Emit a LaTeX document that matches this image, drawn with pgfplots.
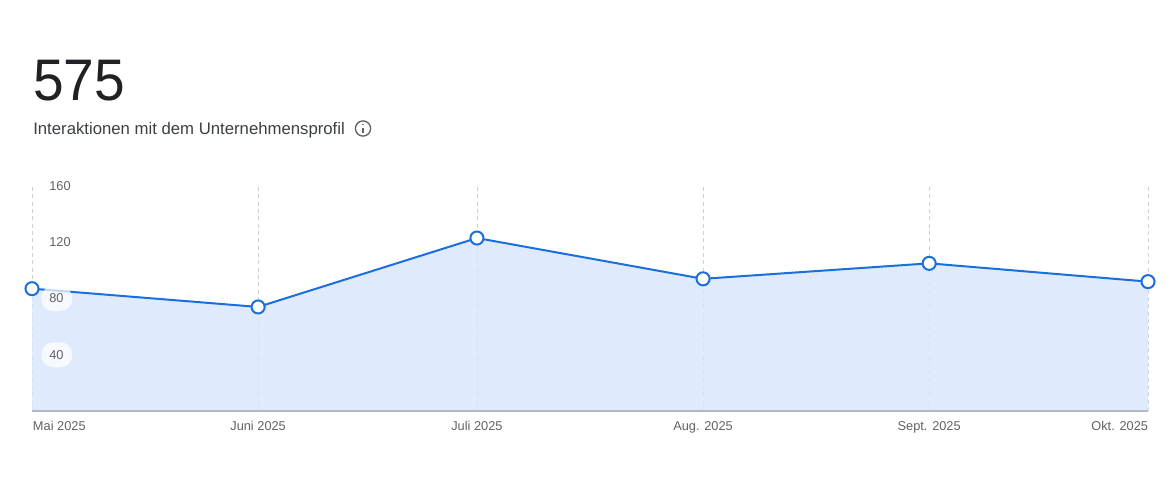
\documentclass[border=0pt]{standalone}
\usepackage{pgfplots}
\pgfplotsset{compat=1.18}
\usepackage{fontspec}
\setmainfont{Liberation Sans}
\newfontfamily\bigfont[FakeStretch=0.94]{Liberation Sans}
\definecolor{linec}{HTML}{1A6FDC}
\definecolor{gridc}{HTML}{CDD2DA}
\definecolor{basec}{HTML}{B0B8CC}
\definecolor{tickc}{HTML}{5F6368}
\definecolor{titlec}{HTML}{202124}
\definecolor{subc}{HTML}{3C4043}
\definecolor{areac}{RGB}{215,230,253}
\pgfplotstableread{
day value
0 87
31 74
61 123
92 94
123 105
153 92
}\datatable
\pgfplotsset{layers/labelsontop/.define layer set={axis background,axis grid,axis ticks,axis lines,pre main,main,axis tick labels,axis descriptions,axis foreground}{
  tick label style={/pgfplots/on layer=axis tick labels},
}}
\begin{document}
\begin{tikzpicture}
\path[fill=white] (0,0) rectangle (882pt,360pt);
\begin{axis}[
  set layers=labelsontop,
  at={(24pt,51.75pt)}, anchor=south west,
  scale only axis, width=837pt, height=168.75pt,
  xmin=0, xmax=153, ymin=0, ymax=160,
  clip=false,
  axis line style={draw=none},
  axis x line*=bottom, axis y line*=left,
  xtick={0,31,61,92,123,153},
  xticklabels={\hspace*{1.5pt}\makebox[0pt][l]{Mai 2025},Juni 2025,Juli 2025,Aug. 2025,Sept. 2025,\makebox[0pt][r]{Okt. 2025}},
  ytick={40,80,120,160},
  major tick length=0pt,
  xmajorgrids,
  major grid style={draw=gridc, line width=0.6pt, dash pattern=on 3pt off 2.5pt},
  /pgf/number format/assume math mode=true,
  ticklabel style={font=\fontsize{9.6}{11}\selectfont, text=tickc},
  xticklabel style={anchor=north, yshift=-4.2pt},
  yticklabel style={anchor=west, xshift=6.75pt, fill=white, fill opacity=0.72, text opacity=1,
    text width=11.25pt, align=left, inner xsep=6pt, inner ysep=0pt,
    minimum height=18.75pt, rounded corners=9pt},
]
\addplot[draw=none, fill=areac, opacity=0.8] table[x=day,y=value] {\datatable} \closedcycle;
\addplot[draw=basec, line width=1.2pt, forget plot] coordinates {(0,0) (153,0)};
\addplot[linec, line width=1.5pt, mark=*, mark size=4.9pt,
  mark options={fill=white, draw=linec, line width=1.5pt, solid}] table[x=day,y=value] {\datatable};
\end{axis}
\begin{scope}[x=.75pt,y=-.75pt,shift={(0,360pt)}]
\node[anchor=base west, inner sep=0pt, text=titlec, font=\bigfont\fontsize{44}{50}\selectfont] at (33,100) {575};
\node[anchor=base west, inner sep=0pt, text=subc, font=\fontsize{12.55}{15}\selectfont] at (33,134.6) {Interaktionen mit dem Unternehmensprofil};
\draw[tickc, line width=1pt] (363,128.5) circle (7.6);
\draw[tickc, line width=1.1pt] (363,127.5) -- (363,133);
\fill[tickc] (363,124.5) circle (0.9);
\end{scope}
\end{tikzpicture}
\end{document}
